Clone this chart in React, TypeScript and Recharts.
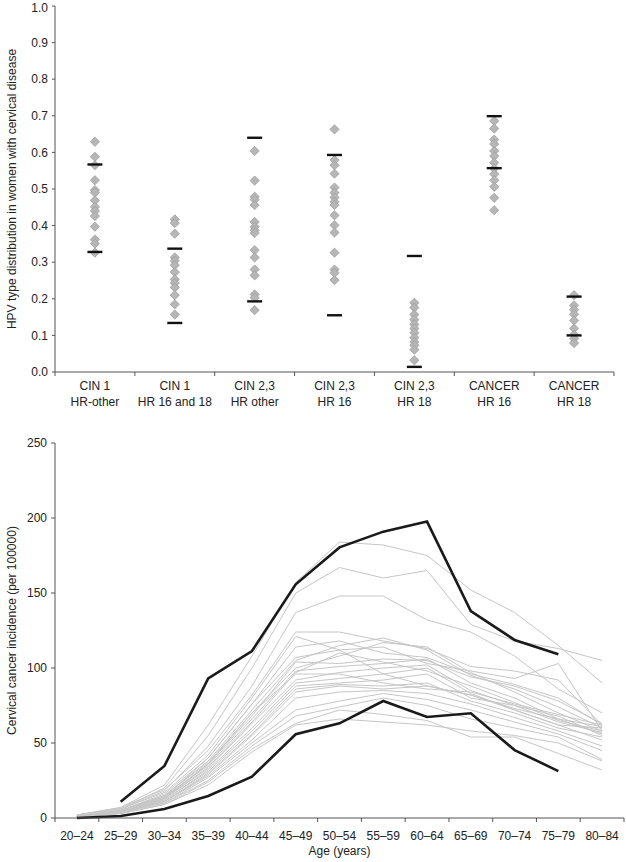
import { Line, LineChart, Scatter, ScatterChart, XAxis, YAxis } from "recharts";

// top panel: HPV type share per disease group
const groupTitles = ["CIN 1", "CIN 1", "CIN 2,3", "CIN 2,3", "CIN 2,3", "CANCER", "CANCER"];
const groupSubtitles = ["HR-other", "HR 16 and 18", "HR other", "HR 16", "HR 18", "HR 16", "HR 18"];

const cin1Other = [0.629, 0.588, 0.565, 0.524, 0.497, 0.49, 0.469, 0.451, 0.44, 0.426, 0.397, 0.362, 0.351, 0.326];
const cin1Hr1618 = [0.417, 0.407, 0.378, 0.313, 0.304, 0.292, 0.273, 0.253, 0.243, 0.231, 0.21, 0.185, 0.157];
const cin23Other = [0.604, 0.523, 0.479, 0.471, 0.456, 0.41, 0.397, 0.387, 0.38, 0.333, 0.313, 0.28, 0.264, 0.212, 0.203, 0.169];
const cin23Hr16 = [0.663, 0.579, 0.565, 0.542, 0.504, 0.49, 0.477, 0.465, 0.456, 0.428, 0.401, 0.381, 0.326, 0.28, 0.271, 0.251];
const cin23Hr18 = [0.189, 0.176, 0.157, 0.143, 0.13, 0.119, 0.107, 0.094, 0.082, 0.073, 0.061, 0.032];
const cancerHr16 = [0.686, 0.665, 0.635, 0.623, 0.604, 0.59, 0.572, 0.556, 0.541, 0.524, 0.506, 0.476, 0.442];
const cancerHr18 = [0.21, 0.182, 0.17, 0.158, 0.141, 0.119, 0.102, 0.091, 0.079];

const upperMarks = [0.567, 0.337, 0.64, 0.593, 0.317, 0.699, 0.206];
const lowerMarks = [0.328, 0.134, 0.193, 0.155, 0.014, 0.557, 0.1];

const shareTicks = [0, 0.1, 0.2, 0.3, 0.4, 0.5, 0.6, 0.7, 0.8, 0.9, 1.0];

// bottom panel: incidence by age
const ageGroups = ["20–24", "25–29", "30–34", "35–39", "40–44", "45–49", "50–54", "55–59", "60–64", "65–69", "70–74", "75–79", "80–84"];

const upperBlack = [null, 10.9, 34.7, 93.1, 111.3, 155.8, 180.4, 190.9, 197.6, 138, 118.7, 109.1, null];
const lowerBlack = [0, 1.3, 6, 14.7, 27.6, 55.8, 63.1, 78, 67.3, 69.8, 45.3, 31.3, null];

const grayCurves: number[][] = [
  [2, 7, 22, 62, 108, 157, 184, 182, 175, 152, 137, 115, 90],
  [2, 6, 20, 55, 100, 150, 167, 160, 165, 129, 118, 113, 105],
  [2, 6, 18, 48, 88, 137, 148, 148, 132, 124, 108, 86, 70],
  [2, 7, 19, 45, 82, 124, 124, 118, 113, 101, 98, 92, 62],
  [2, 6, 17, 42, 80, 121, 112, 114, 103, 98, 93, 103, 58],
  [1, 5, 16, 40, 76, 114, 118, 110, 107, 96, 89, 80, 62],
  [1, 5, 15, 38, 72, 105, 115, 120, 112, 95, 86, 74, 60],
  [1, 5, 15, 37, 70, 100, 108, 117, 114, 97, 84, 70, 58],
  [1, 5, 14, 36, 68, 104, 103, 106, 105, 94, 88, 78, 63],
  [1, 5, 14, 35, 66, 98, 101, 103, 106, 90, 80, 66, 56],
  [1, 4, 13, 34, 64, 97, 110, 104, 98, 88, 77, 65, 58],
  [1, 4, 13, 33, 63, 92, 97, 100, 102, 85, 75, 68, 55],
  [1, 4, 12, 32, 60, 90, 93, 96, 100, 83, 72, 62, 60],
  [1, 4, 12, 31, 58, 88, 90, 92, 96, 80, 75, 64, 57],
  [1, 4, 11, 30, 56, 86, 89, 88, 90, 78, 70, 60, 54],
  [1, 4, 11, 29, 55, 84, 88, 86, 88, 82, 73, 66, 61],
  [1, 4, 11, 28, 52, 80, 84, 85, 83, 76, 67, 58, 48],
  [1, 4, 10, 27, 50, 72, 78, 83, 79, 72, 64, 56, 45],
  [1, 3, 10, 25, 48, 68, 74, 80, 75, 66, 60, 54, 39],
  [1, 3, 9, 24, 46, 63, 72, 69, 65, 54, 54, 43, 32],
  [1, 3, 9, 22, 44, 62, 66, 64, 62, 58, 55, 50, 38],
  [1, 4, 14, 40, 76, 107, 112, 96, 88, 82, 72, 62, 52],
  [1, 4, 13, 36, 70, 96, 96, 90, 86, 84, 76, 69, 62],
];

const incidenceTicks = [0, 50, 100, 150, 200, 250];

const textColor = "#222";
const axisColor = "#555";
const font = "'Liberation Sans', Arial, sans-serif";

const groups = [cin1Other, cin1Hr1618, cin23Other, cin23Hr16, cin23Hr18, cancerHr16, cancerHr18];
const diamondPoints = groups.flatMap((vals, i) => vals.map((v) => ({ x: i + 0.5, y: v })));
const markPoints = groups.flatMap((_, i) => [
  { x: i + 0.5, y: upperMarks[i] },
  { x: i + 0.5, y: lowerMarks[i] },
]);

const ageRows = ageGroups.map((age, i) => {
  const row: Record<string, number | string | null> = { x: i + 0.5, age, hi: upperBlack[i], lo: lowerBlack[i] };
  grayCurves.forEach((c, k) => {
    row["g" + k] = c[i];
  });
  return row;
});

function Diamond(props: any) {
  const { cx, cy } = props;
  const r = 4.6;
  return (
    <polygon
      points={`${cx},${cy - r} ${cx + r},${cy} ${cx},${cy + r} ${cx - r},${cy}`}
      fill="#b6b6b6"
      stroke="#a0a0a0"
      strokeWidth={0.8}
    />
  );
}

function Dash(props: any) {
  const { cx, cy } = props;
  return <line x1={cx - 7.5} x2={cx + 7.5} y1={cy} y2={cy} stroke="#111" strokeWidth={2.4} />;
}

function GroupTick(props: any) {
  const { x, y, payload } = props;
  const i = Math.round(payload.value - 0.5);
  return (
    <g transform={`translate(${x},${y})`}>
      <text textAnchor="middle" fill={textColor} fontSize={12} fontFamily={font}>
        <tspan x={0} dy={12}>{groupTitles[i]}</tspan>
        <tspan x={0} dy={16}>{groupSubtitles[i]}</tspan>
      </text>
    </g>
  );
}

function Nothing() {
  return <g />;
}

export default function App() {
  const tickStyle = { fill: textColor, fontSize: 12, fontFamily: font };
  return (
    <div style={{ position: "absolute", left: 0, top: 0, width: 626, height: 862, background: "#fff" }}>
      <ScatterChart width={626} height={420} margin={{ top: 6, right: 12, bottom: 0, left: 0 }}>
        <XAxis
          xAxisId="grid"
          type="number"
          dataKey="x"
          domain={[0, 7]}
          ticks={[0, 1, 2, 3, 4, 5, 6, 7]}
          tick={<Nothing />}
          tickSize={4}
          height={6}
          stroke={axisColor}
        />
        <XAxis
          xAxisId="lab"
          type="number"
          dataKey="x"
          domain={[0, 7]}
          ticks={[0.5, 1.5, 2.5, 3.5, 4.5, 5.5, 6.5]}
          interval={0}
          axisLine={false}
          tickLine={false}
          tickSize={0}
          tickMargin={0}
          tick={<GroupTick />}
          height={42}
        />
        <YAxis
          type="number"
          dataKey="y"
          domain={[0, 1]}
          ticks={shareTicks}
          tickFormatter={(v: number) => v.toFixed(1)}
          tickSize={3}
          tickMargin={4}
          width={55}
          stroke={axisColor}
          tick={tickStyle}
          label={{
            value: "HPV type distribution in women with cervical disease",
            angle: -90,
            position: "insideLeft",
            offset: 12,
            style: { textAnchor: "middle", fill: textColor, fontSize: 12, fontFamily: font },
          }}
        />
        {/* invisible series so the label axis has data behind it */}
        <Scatter xAxisId="lab" data={diamondPoints} shape={<Nothing />} isAnimationActive={false} />
        <Scatter xAxisId="grid" data={diamondPoints} shape={<Diamond />} isAnimationActive={false} />
        <Scatter xAxisId="grid" data={markPoints} shape={<Dash />} isAnimationActive={false} />
      </ScatterChart>

      <LineChart width={626} height={442} data={ageRows} margin={{ top: 23, right: 2, bottom: 0, left: 0 }}>
        <XAxis
          xAxisId="grid"
          type="number"
          dataKey="x"
          domain={[0, 13]}
          ticks={[0, 1, 2, 3, 4, 5, 6, 7, 8, 9, 10, 11, 12, 13]}
          tick={<Nothing />}
          tickSize={4}
          height={6}
          stroke={axisColor}
        />
        <XAxis
          xAxisId="lab"
          type="number"
          dataKey="x"
          domain={[0, 13]}
          ticks={ageGroups.map((_, i) => i + 0.5)}
          interval={0}
          tickFormatter={(v: number) => ageGroups[Math.round(v - 0.5)]}
          axisLine={false}
          tickLine={false}
          tickSize={0}
          tickMargin={7}
          tick={tickStyle}
          height={38}
          label={{
            value: "Age (years)",
            position: "insideBottom",
            offset: 7,
            style: { fill: textColor, fontSize: 12, fontFamily: font },
          }}
        />
        <YAxis
          type="number"
          domain={[0, 250]}
          ticks={incidenceTicks}
          tickSize={4}
          tickMargin={4}
          width={55}
          stroke={axisColor}
          tick={tickStyle}
          label={{
            value: "Cervical cancer incidence (per 100000)",
            angle: -90,
            position: "insideLeft",
            offset: 12,
            style: { textAnchor: "middle", fill: textColor, fontSize: 12, fontFamily: font },
          }}
        />
        {grayCurves.map((_, k) => (
          <Line
            key={k}
            xAxisId="grid"
            dataKey={"g" + k}
            stroke="#c6c6c6"
            strokeWidth={1}
            dot={false}
            isAnimationActive={false}
          />
        ))}
        <Line xAxisId="grid" dataKey="hi" stroke="#1a1a1a" strokeWidth={2.6} dot={false} isAnimationActive={false} />
        <Line xAxisId="grid" dataKey="lo" stroke="#1a1a1a" strokeWidth={2.6} dot={false} isAnimationActive={false} />
      </LineChart>
    </div>
  );
}
